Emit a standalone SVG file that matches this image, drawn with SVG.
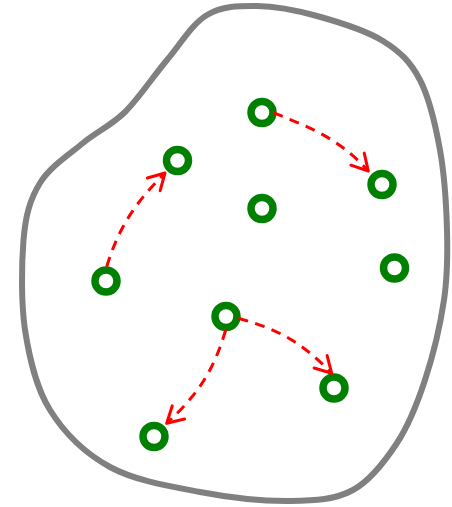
<svg xmlns="http://www.w3.org/2000/svg" width="452" height="507" viewBox="0 0 452 507">
<style>
.blob{fill:none;stroke:#808080;stroke-width:6}
.node{fill:#ffffff;stroke:#008000;stroke-width:7.5}
.edge{fill:none;stroke:#ff0000;stroke-width:3;stroke-dasharray:10 7.5}
.head{fill:none;stroke:#ff0000;stroke-width:3;stroke-dasharray:none;stroke-linecap:round;stroke-linejoin:round}
</style>
<defs>
<marker id="arrow" markerUnits="userSpaceOnUse" viewBox="-20 -12 24 24" markerWidth="24" markerHeight="24" refX="0" refY="0" orient="auto" overflow="visible">
<path class="head" d="M -16,-9 L 0,0 L -16,9"/>
</marker>
</defs>
<path class="blob" d="M 207,15 C 222,6 238.7,5.8 257,6 C 275.3,6.2 296,10.2 317,16 C 338,21.8 365.8,30.3 383,41 C 400.2,51.7 410.5,61.8 420,80 C 429.5,98.2 435.5,125 440,150 C 444.5,175 446.3,205 447,230 C 447.7,255 447.7,275 444,300 C 440.3,325 432.8,356.2 425,380 C 417.2,403.8 409,424.7 397,443 C 385,461.3 370.8,480.3 353,490 C 335.2,499.7 315.5,500.7 290,501 C 264.5,501.3 230,497.7 200,492 C 170,486.3 135,480.7 110,467 C 85,453.3 64.2,432.8 50,410 C 35.8,387.2 29.5,358.3 25,330 C 21,302 21.5,264.5 23.5,240 C 25.5,215.5 30,199.2 40,183 C 50,166.8 68.8,154.8 83,143 C 97.2,131.2 111,125.8 125,112 C 139,98.2 153.3,76.2 167,60 C 180.7,43.8 192,24 207,15 Z"/>
<g id="n1"><circle class="node" cx="106" cy="281" r="11"/></g>
<g id="n2"><circle class="node" cx="177.5" cy="160.5" r="11"/></g>
<g id="n3"><circle class="node" cx="262" cy="112.5" r="11"/></g>
<g id="n4"><circle class="node" cx="262" cy="208.5" r="11"/></g>
<g id="n5"><circle class="node" cx="382" cy="184.5" r="11"/></g>
<g id="n6"><circle class="node" cx="394.5" cy="268" r="11"/></g>
<g id="n7"><circle class="node" cx="226" cy="316.5" r="11"/></g>
<g id="n8"><circle class="node" cx="334" cy="388" r="11"/></g>
<g id="n9"><circle class="node" cx="154" cy="436.5" r="11"/></g>
<g id="connectors">
<path class="edge" marker-end="url(#arrow)" d="M 106.7,266.7 C 119.3,225.9 135.3,203 165,173"/>
<path class="edge" marker-end="url(#arrow)" d="M 273.3,112.7 C 313.2,128.7 339.4,139.1 368.3,171"/>
<path class="edge" marker-end="url(#arrow)" d="M 238.3,318.3 C 278.8,329.2 302.6,343 331.7,373.3"/>
<path class="edge" marker-end="url(#arrow)" d="M 225.7,330 C 213.4,371.2 198.2,394 166.7,423.3"/>
</g>
</svg>
